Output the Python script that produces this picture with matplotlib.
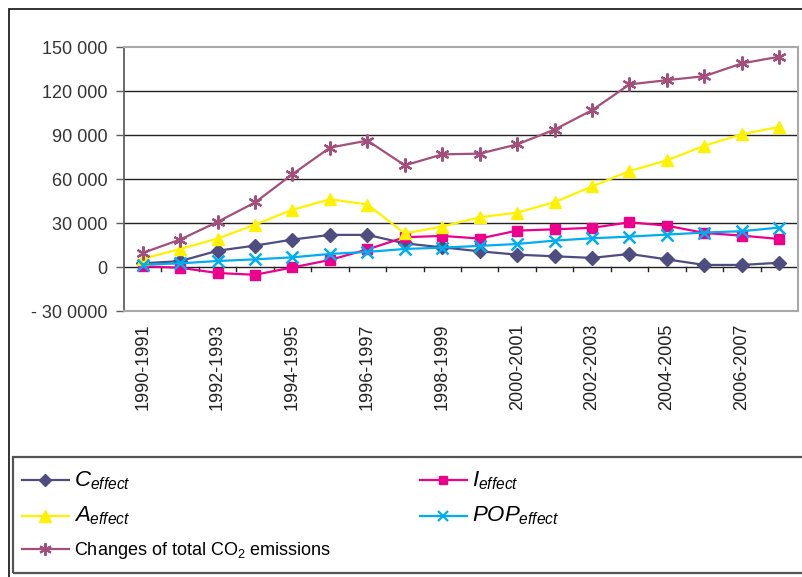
import matplotlib
matplotlib.use("Agg")
import matplotlib.pyplot as plt
from matplotlib.lines import Line2D
from matplotlib.patches import Rectangle

plt.rcParams['font.family'] = ['Liberation Sans', 'DejaVu Sans']
plt.rcParams['mathtext.fontset'] = 'custom'
plt.rcParams['mathtext.rm'] = 'Liberation Sans'
plt.rcParams['mathtext.it'] = 'Liberation Sans:italic'

# periods 1990-1991 ... 2007-2008
periods = [f"{y}-{y + 1}" for y in range(1990, 2008)]

c_effect = [2500, 4000, 11100, 14600, 18700, 21900, 21900, 16100, 13400,
            10700, 8400, 7300, 6200, 8900, 5200, 1400, 1400, 2900]
i_effect = [500, -500, -4100, -5300, -300, 4800, 12000, 20300, 21200,
            19400, 24800, 25700, 26700, 30500, 28200, 23200, 21400, 19100]
a_effect = [5500, 12300, 19400, 28900, 39000, 46200, 42600, 22900, 27600,
            33900, 37100, 44200, 54900, 65400, 72700, 82700, 90500, 95500]
pop_effect = [1600, 2500, 4100, 5200, 6600, 8900, 10300, 12300, 13200,
              14400, 15700, 18000, 19600, 20700, 22100, 23500, 24400, 26900]
total = [9600, 18700, 30800, 44000, 63300, 81400, 86200, 69300, 76800,
         77300, 83600, 93700, 106900, 124500, 127400, 130100, 138800, 143400]

y_ticks = [-30000, 0, 30000, 60000, 90000, 120000, 150000]
y_labels = ["- 30 0000", "0", "30 000", "60 000", "90 000", "120 000", "150 000"]

W, H = 803, 577
fig = plt.figure(figsize=(W / 100, H / 100), dpi=100)

# outer chart frame
fig.add_artist(Rectangle((9 / W, -0.01), 1.0, 1 - 9 / H + 0.01, transform=fig.transFigure,
                         fill=False, edgecolor='#222222', linewidth=1.3))

ax = fig.add_axes([124 / W, (H - 311) / H, (798 - 124) / W, (311 - 47) / H])
x = list(range(len(periods)))

ax.set_xlim(-0.5, len(periods) - 0.5)
ax.set_ylim(-30000, 150000)

for v in y_ticks[2:-1]:
    ax.axhline(v, color='#222222', linewidth=1.0, zorder=1)
# category axis crossing at zero, ticks between categories
ax.axhline(0, color='#222222', linewidth=1.0, zorder=1)
for b in range(1, len(periods)):
    ax.plot([b - 0.5, b - 0.5], [0, -2700], color='#222222', linewidth=1.0, zorder=1)

ms = 7
ax.plot(x, c_effect, color='#4F4C80', marker='D', markersize=ms, linewidth=1.6, zorder=3)
ax.plot(x, i_effect, color='#EC008C', marker='s', markersize=ms + 0.5, linewidth=1.6, zorder=3)
ax.plot(x, a_effect, color='#FFF200', marker='^', markersize=ms + 2, linewidth=1.6, zorder=3)
ax.plot(x, pop_effect, color='#00AEEF', marker='x', markersize=ms + 1, markeredgewidth=1.8,
        linewidth=1.6, zorder=3)
ax.plot(x, total, color='#A24F7C', marker=(6, 2, 0), markersize=ms + 3, markeredgewidth=1.6,
        linewidth=1.6, zorder=3)

for side in ['top', 'right', 'bottom']:
    ax.spines[side].set_color('#A8A8A8')
    ax.spines[side].set_linewidth(1.5)
ax.spines['left'].set_color('#606060')
ax.spines['left'].set_linewidth(1.3)

ax.set_yticks(y_ticks)
ax.set_yticklabels(y_labels)
ax.tick_params(axis='y', direction='out', length=6, width=1, color='#606060',
               labelsize=13, labelcolor='#333333', pad=6)

ax.set_xticks(x[::2])
ax.set_xticklabels(periods[::2], rotation=90)
ax.tick_params(axis='x', length=0, labelsize=13, labelcolor='#222222', pad=9)

# legend box
fig.add_artist(Rectangle((13 / W, (H - 573) / H), 1.0, (573 - 457) / H, transform=fig.transFigure,
                         fill=False, edgecolor='#555555', linewidth=1.6))

handles = [
    Line2D([], [], color='#4F4C80', marker='D', markersize=6, linewidth=1.6),
    Line2D([], [], color='#FFF200', marker='^', markersize=8, linewidth=1.6),
    Line2D([], [], color='#A24F7C', marker=(6, 2, 0), markersize=9, markeredgewidth=1.5, linewidth=1.6),
    Line2D([], [], color='#EC008C', marker='s', markersize=6, linewidth=1.6),
    Line2D([], [], color='#00AEEF', marker='x', markersize=7, markeredgewidth=1.6, linewidth=1.6),
]
labels = [
    r"$\mathit{C}_{\mathit{effect}}$",
    r"$\mathit{A}_{\mathit{effect}}$",
    r"Changes of total CO$_2$ emissions",
    r"$\mathit{I}_{\mathit{effect}}$",
    r"$\mathit{POP}_{\mathit{effect}}$",
]
leg = fig.legend(handles, labels, loc='upper left', bbox_to_anchor=(18 / W, (H - 466) / H),
                 ncol=2, frameon=False, fontsize=13, handlelength=2.6, handletextpad=0.3,
                 labelspacing=0.7, columnspacing=4.9, borderaxespad=0, borderpad=0.2)
for i in [0, 1, 3, 4]:
    leg.get_texts()[i].set_fontsize(16)

fig.savefig("out.png", dpi=100)
